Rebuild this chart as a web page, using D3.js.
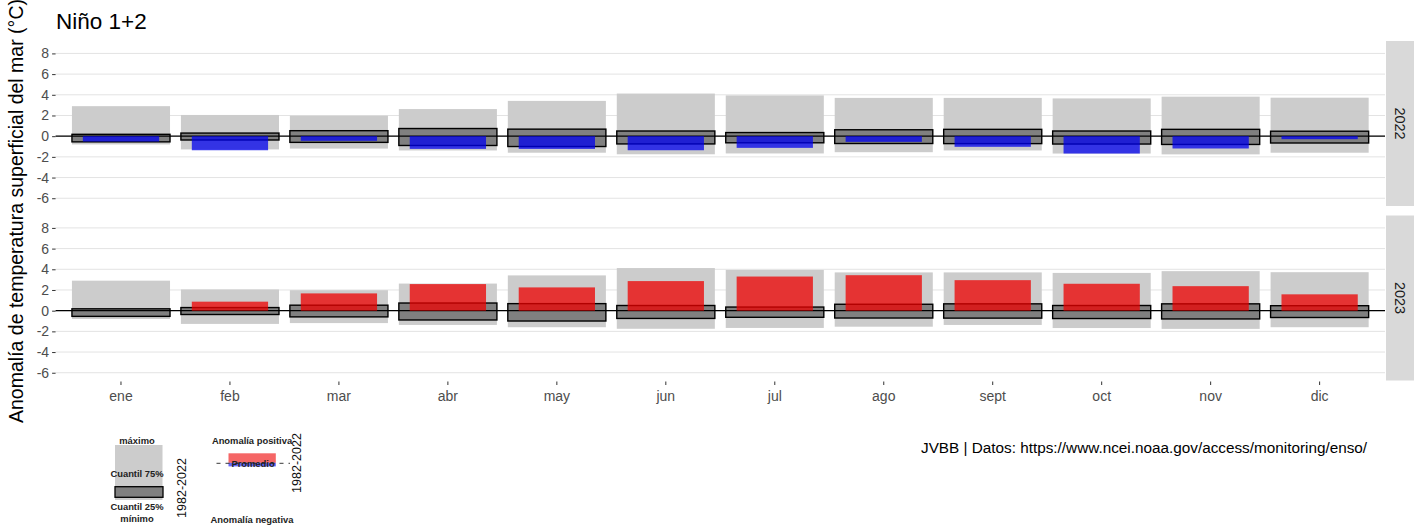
<!DOCTYPE html>
<html>
<head>
<meta charset="utf-8">
<script src="https://cdn.jsdelivr.net/npm/d3@7"></script>
<style>
  html, body { margin: 0; padding: 0; background: #fff; }
  svg { display: block; font-family: "Liberation Sans", Arial, sans-serif; }
</style>
</head>
<body>
<svg id="chart" width="1416" height="527"></svg>
<script>
// ---------- data ----------
const months = ["ene","feb","mar","abr","may","jun","jul","ago","sept","oct","nov","dic"];
// climatology 1982-2022 (anomaly, °C)
const climMax = [2.90, 2.05, 1.98, 2.62, 3.41, 4.12, 3.94, 3.70, 3.70, 3.65, 3.82, 3.72];
const climQ75 = [0.18, 0.30, 0.53, 0.74, 0.68, 0.50, 0.35, 0.62, 0.66, 0.50, 0.66, 0.48];
const climQ25 = [-0.55, -0.37, -0.60, -0.90, -1.00, -0.75, -0.64, -0.71, -0.72, -0.76, -0.80, -0.66];
const climMin = [-0.80, -1.28, -1.20, -1.38, -1.60, -1.75, -1.67, -1.55, -1.38, -1.68, -1.76, -1.60];
const years = ["2022", "2023"];
const anom2022 = [-0.52, -1.36, -0.45, -1.23, -1.23, -1.36, -1.13, -0.55, -1.03, -1.68, -1.19, -0.29];
const anom2023 = [0.00, 0.87, 1.67, 2.57, 2.25, 2.86, 3.30, 3.43, 2.95, 2.60, 2.37, 1.58];
const yTicks = [-6, -4, -2, 0, 2, 4, 6, 8];
const titleText = "Niño 1+2";
const yTitle = "Anomalía de temperatura superficial del mar (°C)";
const captionText = "JVBB | Datos: https://www.ncei.noaa.gov/access/monitoring/enso/";

const anomByYear = { "2022": anom2022, "2023": anom2023 };

// ---------- layout ----------
const svg = d3.select("#chart");
const panelLeft = 55.6, panelRight = 1385;
const panelH = 165;
const panelTops = [41, 215.5];
const stripX = 1386, stripW = 28;

const x = d3.scaleBand().domain(months).range([panelLeft, panelRight])
  .paddingInner(0.1).paddingOuter(0.15);
const step = x.step();
const anomW = step * 0.7;

const rows = months.map((m, i) => ({
  m, max: climMax[i], q75: climQ75[i], q25: climQ25[i], min: climMin[i]
}));

// title
svg.append("text").attr("x", 56).attr("y", 29)
  .attr("font-size", 22.5).attr("fill", "#000").text(titleText);

// y-axis title
svg.append("text")
  .attr("transform", "translate(22.5," + 211 + ") rotate(-90)")
  .attr("text-anchor", "middle").attr("font-size", 19.5).attr("fill", "#000")
  .text(yTitle);

years.forEach((yr, pi) => {
  const top = panelTops[pi];
  const y = d3.scaleLinear().domain([-6.75, 9.2]).range([top + panelH, top]);
  const g = svg.append("g");

  // gridlines
  g.selectAll("line.grid").data(yTicks).join("line")
    .attr("x1", panelLeft).attr("x2", panelRight)
    .attr("y1", d => y(d)).attr("y2", d => y(d))
    .attr("stroke", "#e3e3e3").attr("stroke-width", 1);

  // y axis
  const ya = d3.axisLeft(y).tickValues(yTicks).tickFormat(d => String(d))
    .tickSize(3.5).tickPadding(3);
  const yg = g.append("g").attr("transform", `translate(${panelLeft},0)`).call(ya);
  yg.select(".domain").remove();
  yg.selectAll(".tick line").attr("stroke", "#333");
  yg.selectAll(".tick text").attr("font-size", 14).attr("fill", "#4d4d4d")
    .attr("font-family", "Liberation Sans, Arial, sans-serif");

  // range bars (min-max)
  g.selectAll("rect.range").data(rows).join("rect")
    .attr("x", d => x(d.m)).attr("width", x.bandwidth())
    .attr("y", d => y(d.max)).attr("height", d => y(d.min) - y(d.max))
    .attr("fill", "#cccccc");

  // quantile boxes
  g.selectAll("rect.q").data(rows).join("rect")
    .attr("x", d => x(d.m)).attr("width", x.bandwidth())
    .attr("y", d => y(d.q75)).attr("height", d => y(d.q25) - y(d.q75))
    .attr("fill", "#808080").attr("stroke", "#000").attr("stroke-width", 1.4);

  // zero line
  g.append("line").attr("x1", panelLeft).attr("x2", panelRight)
    .attr("y1", y(0)).attr("y2", y(0)).attr("stroke", "#000").attr("stroke-width", 1.1);

  // anomaly bars
  const an = anomByYear[yr];
  g.selectAll("rect.an").data(months.map((m, i) => ({ m, v: an[i] }))).join("rect")
    .attr("x", d => x(d.m) + x.bandwidth() / 2 - anomW / 2).attr("width", anomW)
    .attr("y", d => y(Math.max(0, d.v)))
    .attr("height", d => Math.abs(y(d.v) - y(0)))
    .attr("fill", d => d.v >= 0 ? "#ee0000" : "#0000ee").attr("fill-opacity", 0.75);

  // strip
  g.append("rect").attr("x", stripX).attr("y", top).attr("width", stripW).attr("height", panelH)
    .attr("fill", "#d9d9d9");
  g.append("text")
    .attr("transform", `translate(${stripX + stripW / 2},${top + panelH / 2}) rotate(90)`)
    .attr("text-anchor", "middle").attr("dominant-baseline", "central")
    .attr("font-size", 14.5).attr("fill", "#1a1a1a").text(yr);
});

// x axis (bottom)
const xa = d3.axisBottom(x).tickSize(3.5).tickPadding(6);
const xg = svg.append("g").attr("transform", `translate(0,${panelTops[1] + panelH + 1})`).call(xa);
xg.select(".domain").remove();
xg.selectAll(".tick line").attr("stroke", "#333");
xg.selectAll(".tick text").attr("font-size", 14).attr("fill", "#4d4d4d")
  .attr("font-family", "Liberation Sans, Arial, sans-serif");

// caption
svg.append("text").attr("x", 921).attr("y", 452.5).attr("font-size", 15.3)
  .attr("fill", "#000").text(captionText);

// ---------- legend inset ----------
const lg = svg.append("g").attr("font-family", "Liberation Sans, Arial, sans-serif");
const small = (t, cx, cy) => lg.append("text").attr("x", cx).attr("y", cy)
  .attr("text-anchor", "middle").attr("dominant-baseline", "central")
  .attr("font-size", 9.4).attr("font-weight", "bold").attr("fill", "#222").text(t);

lg.append("rect").attr("x", 115).attr("y", 445).attr("width", 47.5).attr("height", 55).attr("fill", "#cccccc");
lg.append("rect").attr("x", 115).attr("y", 486.7).attr("width", 48).attr("height", 10.6)
  .attr("fill", "#808080").attr("stroke", "#000").attr("stroke-width", 1.3);
small("máximo", 137, 440);
small("Cuantil 75%", 137, 473.5);
small("Cuantil 25%", 137, 506);
small("mínimo", 137, 518.5);
lg.append("text").attr("transform", "translate(182,488) rotate(-90)")
  .attr("text-anchor", "middle").attr("dominant-baseline", "central")
  .attr("font-size", 12.5).attr("fill", "#111").text("1982-2022");

lg.append("rect").attr("x", 228.5).attr("y", 453.3).attr("width", 47.3).attr("height", 9.5)
  .attr("fill", "#ee0000").attr("fill-opacity", 0.6);
lg.append("rect").attr("x", 228.5).attr("y", 462.8).attr("width", 47.3).attr("height", 3.6)
  .attr("fill", "#0000ee").attr("fill-opacity", 0.6);
small("Anomalía positiva", 252, 440);
small("Promedio", 253, 463.5);
lg.append("line").attr("x1", 216.5).attr("x2", 290).attr("y1", 463.3).attr("y2", 463.3)
  .attr("stroke", "#222").attr("stroke-width", 0.9).attr("stroke-dasharray", "4,5");
small("Anomalía negativa", 252, 519);
lg.append("text").attr("transform", "translate(297,463) rotate(-90)")
  .attr("text-anchor", "middle").attr("dominant-baseline", "central")
  .attr("font-size", 12.5).attr("fill", "#111").text("1982-2022");
</script>
</body>
</html>
